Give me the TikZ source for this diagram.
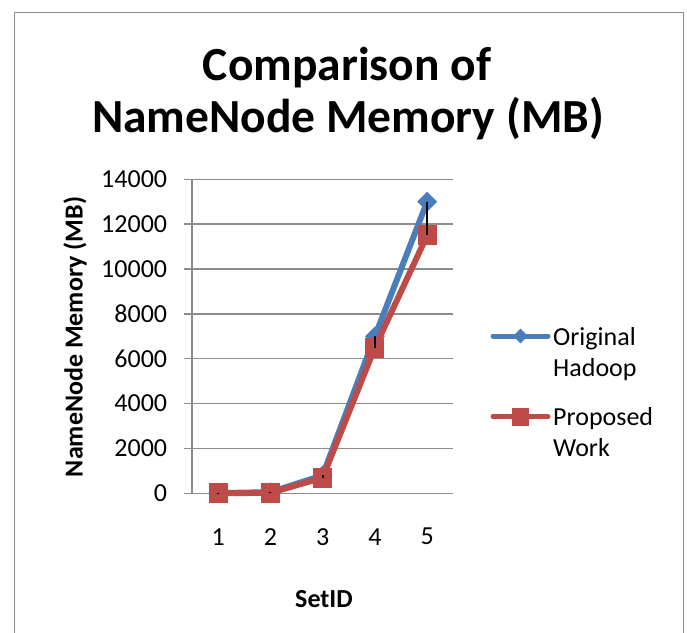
\documentclass[tikz,border=0pt]{standalone}
\usepackage{fontspec}
\setmainfont{Carlito}
\usetikzlibrary{shapes.geometric}
\definecolor{serblue}{HTML}{4A7EBB}
\definecolor{serred}{HTML}{BE4B48}
\definecolor{gridgray}{HTML}{8C8C8C}
\tikzset{
  gridline/.style={draw=gridgray, line width=1.5pt},
  blueline/.style={draw=serblue, line width=6pt, line join=round},
  redline/.style={draw=serred, line width=6pt, line join=round},
  bluemark/.style={diamond, fill=serblue, inner sep=0pt, minimum width=20pt, minimum height=20pt},
  redmark/.style={rectangle, fill=serred, inner sep=0pt, minimum width=19pt, minimum height=20pt},
  hiloline/.style={draw=black, line width=2pt},
  ticklab/.style={font=\fontsize{26}{31}\selectfont, inner sep=0pt},
  legtext/.style={font=\fontsize{26}{31}\selectfont, inner sep=0pt, anchor=base west},
  titletext/.style={font=\fontsize{47.5}{56}\selectfont\bfseries, anchor=base, inner sep=0pt},
}
\begin{document}
\begin{tikzpicture}[x=1pt,y=-1pt]
\useasboundingbox (0,0) rectangle (687,632);
% chart frame
\draw[gridgray, line width=1.5pt] (14.5,640) -- (14.5,12.3) -- (683.5,12.3) -- (683.5,640);
% title
\node[titletext] (t1) at (347,80) {Comparison of};
\node[titletext] (t2) at (348,132.5) {NameNode Memory (MB)};
% gridlines and y ticks
\foreach \k in {0,...,7}{
  \pgfmathsetmacro{\yy}{493.3-44.86*\k}
  \pgfmathtruncatemacro{\val}{2000*\k}
  \draw[gridline] (184,\yy) -- (453.3,\yy);
  \node[ticklab, anchor=east] (yl\k) at (167.3,\yy) {\val};
}
\draw[gridline] (192,179.3) -- (192,493.3);
% x labels
\foreach \i in {1,...,5}{
  \pgfmathsetmacro{\xx}{192+52.26*(\i-0.5)}
  \node[ticklab] (xl\i) at (\xx,536.7) {\i};
}
% axis titles
\node[font=\fontsize{26}{31}\selectfont\bfseries, anchor=base, rotate=90, inner sep=0pt] (ytitle) at (82.7,337) {NameNode Memory (MB)};
\node[font=\fontsize{26}{31}\selectfont\bfseries, inner sep=0pt] (xtitle) at (324,598.7) {SetID};
% data points
\foreach \i/\o/\p in {1/10/5, 2/50/20, 3/800/700, 4/7000/6500, 5/13000/11500}{
  \pgfmathsetmacro{\xx}{192+52.26*(\i-0.5)}
  \pgfmathsetmacro{\yo}{493.3-\o*0.022429}
  \pgfmathsetmacro{\yp}{493.3-\p*0.022429}
  \coordinate (o\i) at (\xx,\yo);
  \coordinate (p\i) at (\xx,\yp);
}
\draw[blueline] (o1) -- (o2) -- (o3) -- (o4) -- (o5);
\foreach \i in {1,...,5}{ \node[bluemark] (om\i) at (o\i) {}; }
\draw[redline] (p1) -- (p2) -- (p3) -- (p4) -- (p5);
\foreach \i in {1,...,5}{ \node[redmark] (pm\i) at (p\i) {}; }
\foreach \i in {1,...,5}{ \draw[hiloline] (o\i) -- (p\i); }
% legend
\coordinate (lb1) at (493,336);
\coordinate (lb2) at (548,336);
\draw[serblue, line width=5pt, line cap=round] (lb1) -- (lb2);
\node[bluemark, minimum width=15pt, minimum height=15pt] (lbm) at (520.5,336) {};
\node[legtext] (lt1) at (553,345) {Original};
\node[legtext] (lt2) at (553,376.7) {Hadoop};
\coordinate (lr1) at (493,416.7);
\coordinate (lr2) at (548,416.7);
\draw[serred, line width=5pt, line cap=round] (lr1) -- (lr2);
\node[redmark, minimum width=17pt, minimum height=18pt] (lrm) at (520.5,416.7) {};
\node[legtext] (lt3) at (553,425) {Proposed};
\node[legtext] (lt4) at (553,456.7) {Work};
\end{tikzpicture}
\end{document}
